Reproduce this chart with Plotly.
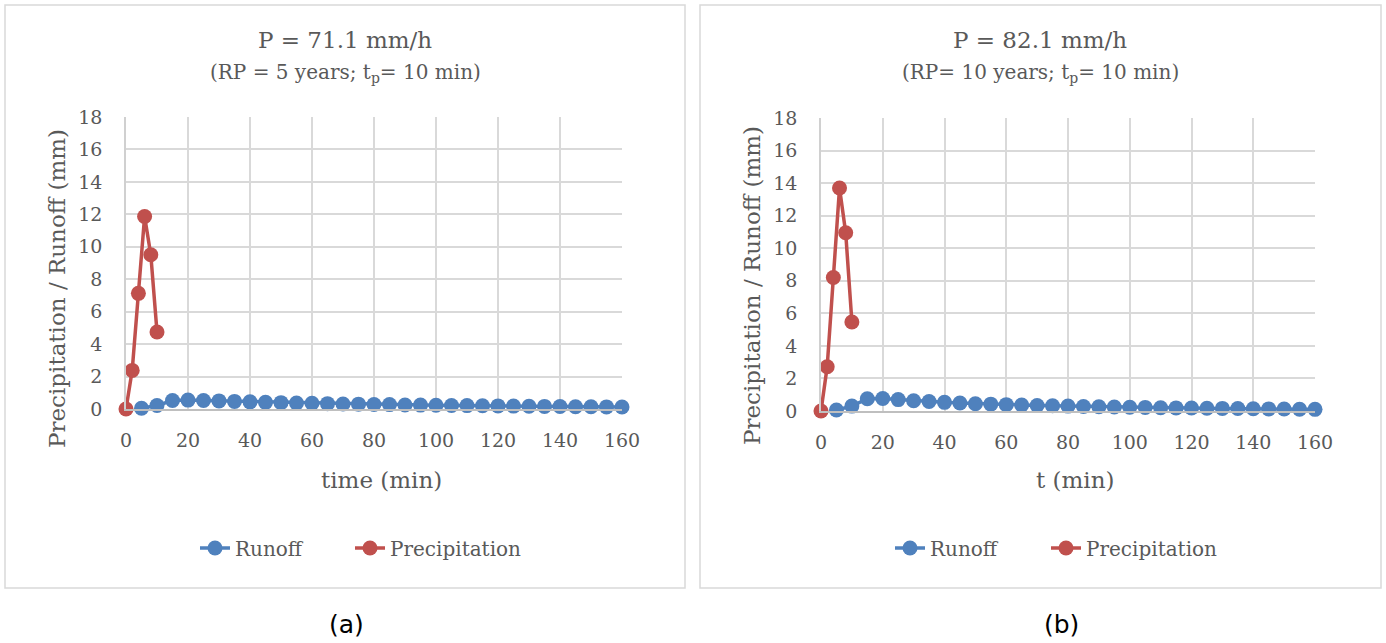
import plotly.graph_objects as go

W, H = 1386, 643

# ---------------- data ----------------
t_prec = [0, 2, 4, 6, 8, 10]
t_runoff = [5, 10, 15, 20, 25, 30, 35, 40, 45, 50, 55, 60, 65, 70, 75, 80,
            85, 90, 95, 100, 105, 110, 115, 120, 125, 130, 135, 140, 145, 150, 155, 160]

prec_a = [0, 2.38, 7.13, 11.87, 9.51, 4.75]
runoff_a = [0.05, 0.22, 0.52, 0.55, 0.52, 0.50, 0.47, 0.44, 0.41, 0.39, 0.37, 0.35,
            0.33, 0.31, 0.30, 0.28, 0.27, 0.25, 0.24, 0.23, 0.22, 0.21, 0.20, 0.19,
            0.18, 0.17, 0.16, 0.15, 0.14, 0.14, 0.13, 0.12]

prec_b = [0, 2.72, 8.20, 13.70, 10.95, 5.47]
runoff_b = [0.06, 0.30, 0.75, 0.77, 0.70, 0.63, 0.58, 0.53, 0.49, 0.45, 0.42, 0.39,
            0.37, 0.34, 0.32, 0.30, 0.28, 0.26, 0.25, 0.23, 0.22, 0.20, 0.19, 0.18,
            0.17, 0.16, 0.15, 0.14, 0.13, 0.12, 0.11, 0.10]

series_names = ["Runoff", "Precipitation"]
titles = ["P = 71.1 mm/h", "P = 82.1 mm/h"]
subtitles = ["(RP = 5 years; t<sub>p</sub>= 10 min)", "(RP= 10 years; t<sub>p</sub>= 10 min)"]
xtitles = ["time (min)", "t (min)"]
ytitle = "Precipitation / Runoff (mm)"
panel_labels = ["(a)", "(b)"]
x_ticks = [0, 20, 40, 60, 80, 100, 120, 140, 160]
y_ticks = [0, 2, 4, 6, 8, 10, 12, 14, 16, 18]

BLUE = "#4F81BD"
RED = "#C0504D"
FONT = "DejaVu Serif"
TXT = "#595959"


def px_x(p):
    return p / W


def px_y(p):
    return 1 - p / H


fig = go.Figure()

panels = [
    dict(prec=prec_a, run=runoff_a, x0=126, x1=622, y0=117, y1=409, box=(5, 685),
         cx=345, lab_x=347, xt=(381, 480), yt=(57, 289),
         legends=("legend", "legend2"), lx=(195, 350)),
    dict(prec=prec_b, run=runoff_b, x0=821, x1=1315, y0=118, y1=411, box=(700, 1381),
         cx=1040, lab_x=1061, xt=(1075, 480), yt=(752, 286),
         legends=("legend3", "legend4"), lx=(890, 1046)),
]

legend_layout = {}
for i, p in enumerate(panels):
    xa = "x" if i == 0 else "x2"
    ya = "y" if i == 0 else "y2"
    fig.add_trace(go.Scatter(
        x=t_runoff, y=p["run"], name=series_names[0], mode="lines+markers",
        line=dict(color=BLUE, width=3.5), marker=dict(color=BLUE, size=15),
        xaxis=xa, yaxis=ya, cliponaxis=False, legend=p["legends"][0]))
    fig.add_trace(go.Scatter(
        x=t_prec, y=p["prec"], name=series_names[1], mode="lines+markers",
        line=dict(color=RED, width=3.5), marker=dict(color=RED, size=15),
        xaxis=xa, yaxis=ya, cliponaxis=False, legend=p["legends"][1]))

    for lg, lx in zip(p["legends"], p["lx"]):
        legend_layout[lg] = dict(
            orientation="h", xanchor="left", yanchor="middle",
            x=px_x(lx), y=px_y(548), font=dict(family=FONT, size=20, color=TXT),
            bgcolor="rgba(0,0,0,0)", itemwidth=30)

    axx = dict(domain=[px_x(p["x0"]), px_x(p["x1"])], range=[0, 160],
               tickvals=x_ticks, showgrid=True, gridcolor="#d9d9d9", gridwidth=1.5,
               showline=True, linecolor="#bfbfbf", linewidth=1.5, zeroline=False,
               ticks="", ticklabelstandoff=13, automargin=False,
               tickfont=dict(family=FONT, size=19, color=TXT),
               anchor=ya, fixedrange=True)
    axy = dict(domain=[px_y(p["y1"]), px_y(p["y0"])], range=[0, 18],
               tickvals=y_ticks, showgrid=True, gridcolor="#d9d9d9", gridwidth=1.5,
               showline=True, linecolor="#d0d0d0", linewidth=1.5,
               zeroline=False, ticks="", ticklabelstandoff=18, automargin=False,
               tickfont=dict(family=FONT, size=19, color=TXT),
               anchor=xa, fixedrange=True)
    if i == 0:
        fig.update_layout(xaxis=axx, yaxis=axy)
    else:
        fig.update_layout(xaxis2=axx, yaxis2=axy)

    # panel frame
    fig.add_shape(type="rect", xref="paper", yref="paper",
                  x0=px_x(p["box"][0]), x1=px_x(p["box"][1]), y0=px_y(588), y1=px_y(5),
                  line=dict(color="#d9d9d9", width=1.5), fillcolor="rgba(0,0,0,0)",
                  layer="below")
    # chart titles
    fig.add_annotation(text=titles[i], xref="paper", yref="paper",
                       x=px_x(p["cx"]), y=px_y(40), showarrow=False,
                       xanchor="center", yanchor="middle",
                       font=dict(family=FONT, size=23, color=TXT))
    fig.add_annotation(text=subtitles[i], xref="paper", yref="paper",
                       x=px_x(p["cx"]), y=px_y(73), showarrow=False,
                       xanchor="center", yanchor="middle",
                       font=dict(family=FONT, size=20, color=TXT))
    # axis titles
    fig.add_annotation(text=xtitles[i], xref="paper", yref="paper",
                       x=px_x(p["xt"][0]), y=px_y(p["xt"][1]), showarrow=False,
                       xanchor="center", yanchor="middle",
                       font=dict(family=FONT, size=23, color=TXT))
    fig.add_annotation(text=ytitle, xref="paper", yref="paper", textangle=-90,
                       x=px_x(p["yt"][0]), y=px_y(p["yt"][1]), showarrow=False,
                       xanchor="center", yanchor="middle",
                       font=dict(family=FONT, size=23, color=TXT))
    # panel label
    fig.add_annotation(text=panel_labels[i], xref="paper", yref="paper",
                       x=px_x(p["lab_x"]), y=px_y(624), showarrow=False,
                       xanchor="center", yanchor="middle",
                       font=dict(family="DejaVu Sans", size=25, color="#000000"))

fig.update_layout(**legend_layout)

fig.update_layout(
    width=W, height=H, margin=dict(l=0, r=0, t=0, b=0, autoexpand=False),
    paper_bgcolor="white", plot_bgcolor="white", showlegend=True,
)

fig.write_html(
    "out.html",
    config={"displayModeBar": False},
    post_script="document.body.style.margin='0px';document.body.style.overflow='hidden';",
)
